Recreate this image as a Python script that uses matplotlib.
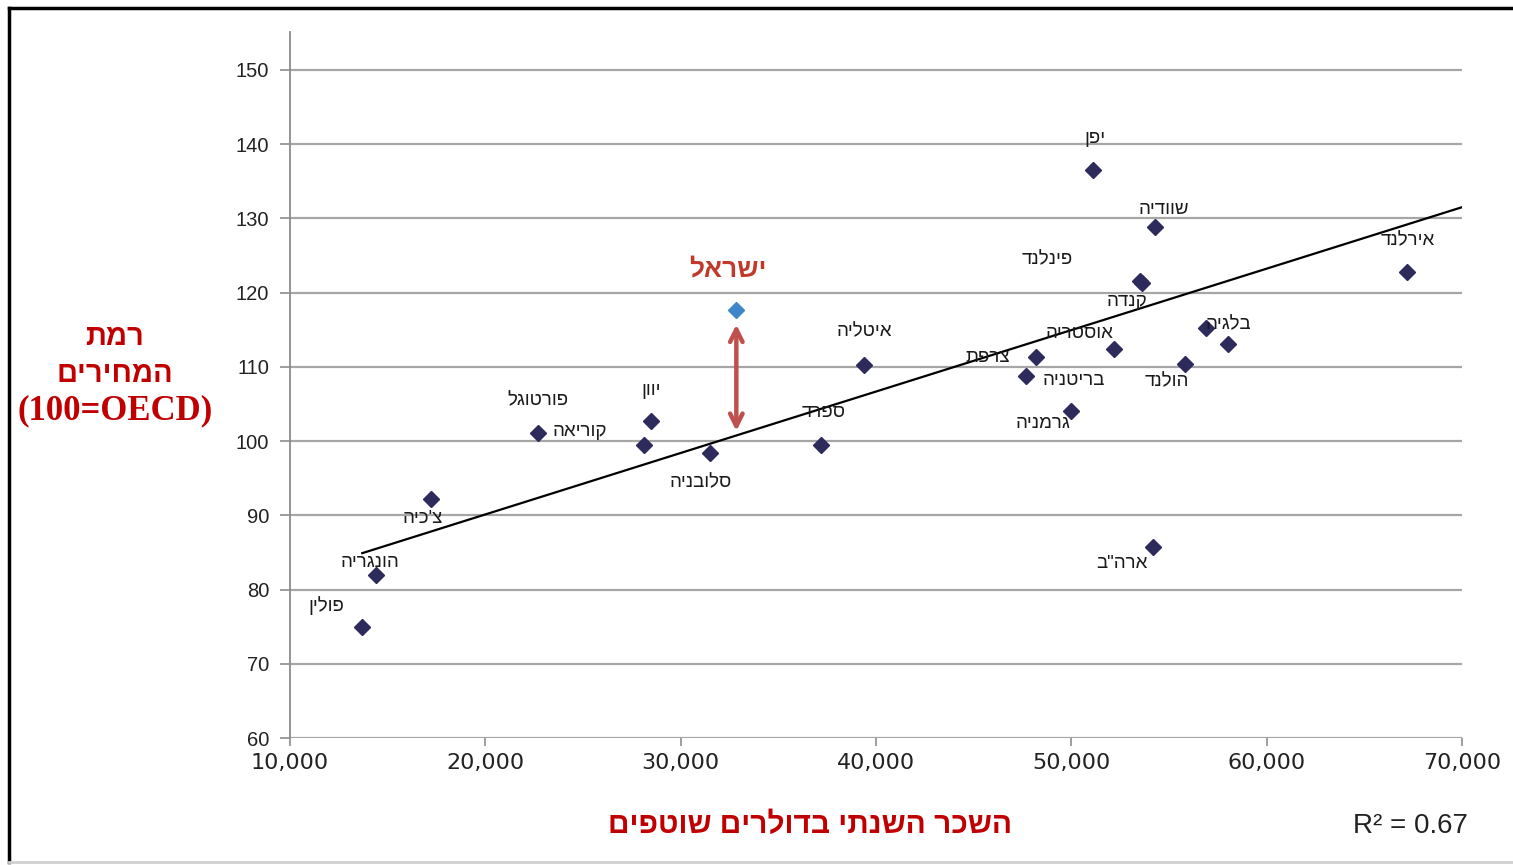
import numpy as np
import matplotlib.pyplot as plt
from matplotlib.lines import Line2D
from matplotlib.ticker import FuncFormatter

# data: annual wage (current USD) vs price level (OECD=100)
countries = ['פולין', 'הונגריה', "צ'כיה", 'פורטוגל', 'קוריאה', 'יוון', 'סלובניה',
             'ספרד', 'איטליה', 'צרפת', 'בריטניה', 'גרמניה', 'אוסטריה', 'יפן',
             'שוודיה', 'פינלנד', 'קנדה', 'הולנד', 'בלגיה', '', 'ארה"ב', 'אירלנד']
wage = [13700, 14400, 17200, 22700, 28100, 28500, 31500,
        37200, 39400, 48200, 47700, 50000, 52200, 51100,
        54300, 53500, 53600, 55800, 58000, 56900, 54200, 67200]
price = [75.0, 82.0, 92.2, 101.1, 99.5, 102.7, 98.4,
         99.5, 110.3, 111.3, 108.8, 104.1, 112.4, 136.5,
         128.9, 121.5, 121.3, 110.4, 113.1, 115.2, 85.7, 122.8]

israel_name = 'ישראל'
israel_wage = 32850
israel_price = 117.7

# linear trend as drawn in the source (Excel trendline)
trend_x = [13700, 70000]
trend_y = [84.9, 131.5]
r_squared = 0.67

y_ticks = list(range(60, 151, 10))
x_ticks = list(range(10000, 70001, 10000))

# label offsets in pixels (dx, dy) from each point
label_off = [(-36, 21), (-6, 12), (-8, -20), (0, 32), (-64, 13), (0, 31), (-9, -30),
             (2, 32), (0, 33), (-48, 0), (47, -5), (-28, -13), (-35, 15), (2, 32),
             (9, 17), (-92, 22), (-15, -19), (-18, -18), (1, 19), (0, 0), (-31, -16), (0, 31)]


def vis(s):
    # matplotlib has no bidi, so hebrew is reversed into visual order
    return s[::-1]


HEB = ['Liberation Sans', 'DejaVu Sans']
RED = '#c00000'
GRID = '#a6a6a6'

fig = plt.figure(figsize=(15.13, 8.65), dpi=100)
ax = fig.add_axes([290 / 1513, 127 / 865, 1172 / 1513, 706 / 865])

ax.set_xlim(10000, 70000)
ax.set_ylim(60, 155.1)
ax.set_yticks(y_ticks)
ax.set_xticks(x_ticks)
ax.xaxis.set_major_formatter(FuncFormatter(lambda v, p: f'{int(v):,}'))

for y in y_ticks:
    ax.axhline(y, color=GRID, lw=1.6, zorder=1)

for side in ['top', 'right', 'bottom']:
    ax.spines[side].set_visible(False)
ax.spines['left'].set_color('#8c8c8c')
ax.spines['left'].set_linewidth(1.3)

ax.tick_params(axis='y', length=7, width=1.2, color='#8c8c8c', pad=8,
               labelsize=14.5, labelcolor='#222222')
ax.tick_params(axis='x', length=6, width=1.2, color='#8c8c8c', pad=5,
               labelsize=16, labelcolor='#222222')
for t in ax.get_yticklabels():
    t.set_fontfamily('Liberation Sans')
for t in ax.get_xticklabels():
    t.set_fontfamily('DejaVu Sans')

# trend line
ax.plot(trend_x, trend_y, color='black', lw=1.6, zorder=3)

# countries
ax.plot(wage, price, linestyle='none', marker='D', markersize=8.5,
        color='#2d2a5c', zorder=4)
for name, x, y, (dx, dy) in zip(countries, wage, price, label_off):
    if not name:
        continue
    ax.annotate(vis(name), (x, y), xytext=(dx, dy), textcoords='offset pixels',
                ha='center', va='center', fontsize=13.5, color='#1a1a1a',
                family=HEB, zorder=5)

# israel
ax.plot([israel_wage], [israel_price], linestyle='none', marker='D', markersize=8.5,
        color='#3f86c8', zorder=4)
ax.annotate(vis(israel_name), (israel_wage, israel_price), xytext=(-8, 40),
            textcoords='offset pixels', ha='center', va='center', fontsize=19,
            fontweight='bold', color='#c0392b', family=HEB, zorder=5)

# gap arrow between israel and the trend line
gap_top = israel_price - 2.0
gap_bottom = np.interp(israel_wage, trend_x, trend_y) + 0.6
ax.annotate('', xy=(israel_wage, gap_top), xytext=(israel_wage, gap_bottom),
            arrowprops=dict(arrowstyle='<->,head_length=0.9,head_width=0.45',
                            color='#c0504d', lw=3.2, shrinkA=0, shrinkB=0), zorder=5)

# axis titles
fig.text(115 / 1513, 1 - 337 / 865, vis('רמת'), ha='center', va='center',
         fontsize=21, fontweight='bold', color=RED, family=HEB)
fig.text(115 / 1513, 1 - 374 / 865, vis('המחירים'), ha='center', va='center',
         fontsize=21, fontweight='bold', color=RED, family=HEB)
fig.text(115 / 1513, 1 - 411 / 865, '(100=OECD)', ha='center', va='center',
         fontsize=25, fontweight='bold', color=RED, family='Liberation Serif')
fig.text(810 / 1513, 1 - 825 / 865, vis('השכר השנתי בדולרים שוטפים'),
         ha='center', va='center', fontsize=21.5, fontweight='bold', color=RED,
         family=HEB)
fig.text(1410 / 1513, 1 - 826 / 865, f'R² = {r_squared:.2f}',
         ha='center', va='center', fontsize=20, color='#222222',
         family='Liberation Sans')

# outer frame (left and top dark, bottom light)
fig.add_artist(Line2D([9 / 1513, 1], [1 - 8 / 865, 1 - 8 / 865],
                      transform=fig.transFigure, color='black', lw=2.5))
fig.add_artist(Line2D([9 / 1513, 9 / 1513], [1 - 8 / 865, 1 - 862 / 865],
                      transform=fig.transFigure, color='black', lw=2.5))
fig.add_artist(Line2D([9 / 1513, 1], [1 - 862 / 865, 1 - 862 / 865],
                      transform=fig.transFigure, color='#d0d0d0', lw=2))

fig.savefig('out.png', dpi=100)
